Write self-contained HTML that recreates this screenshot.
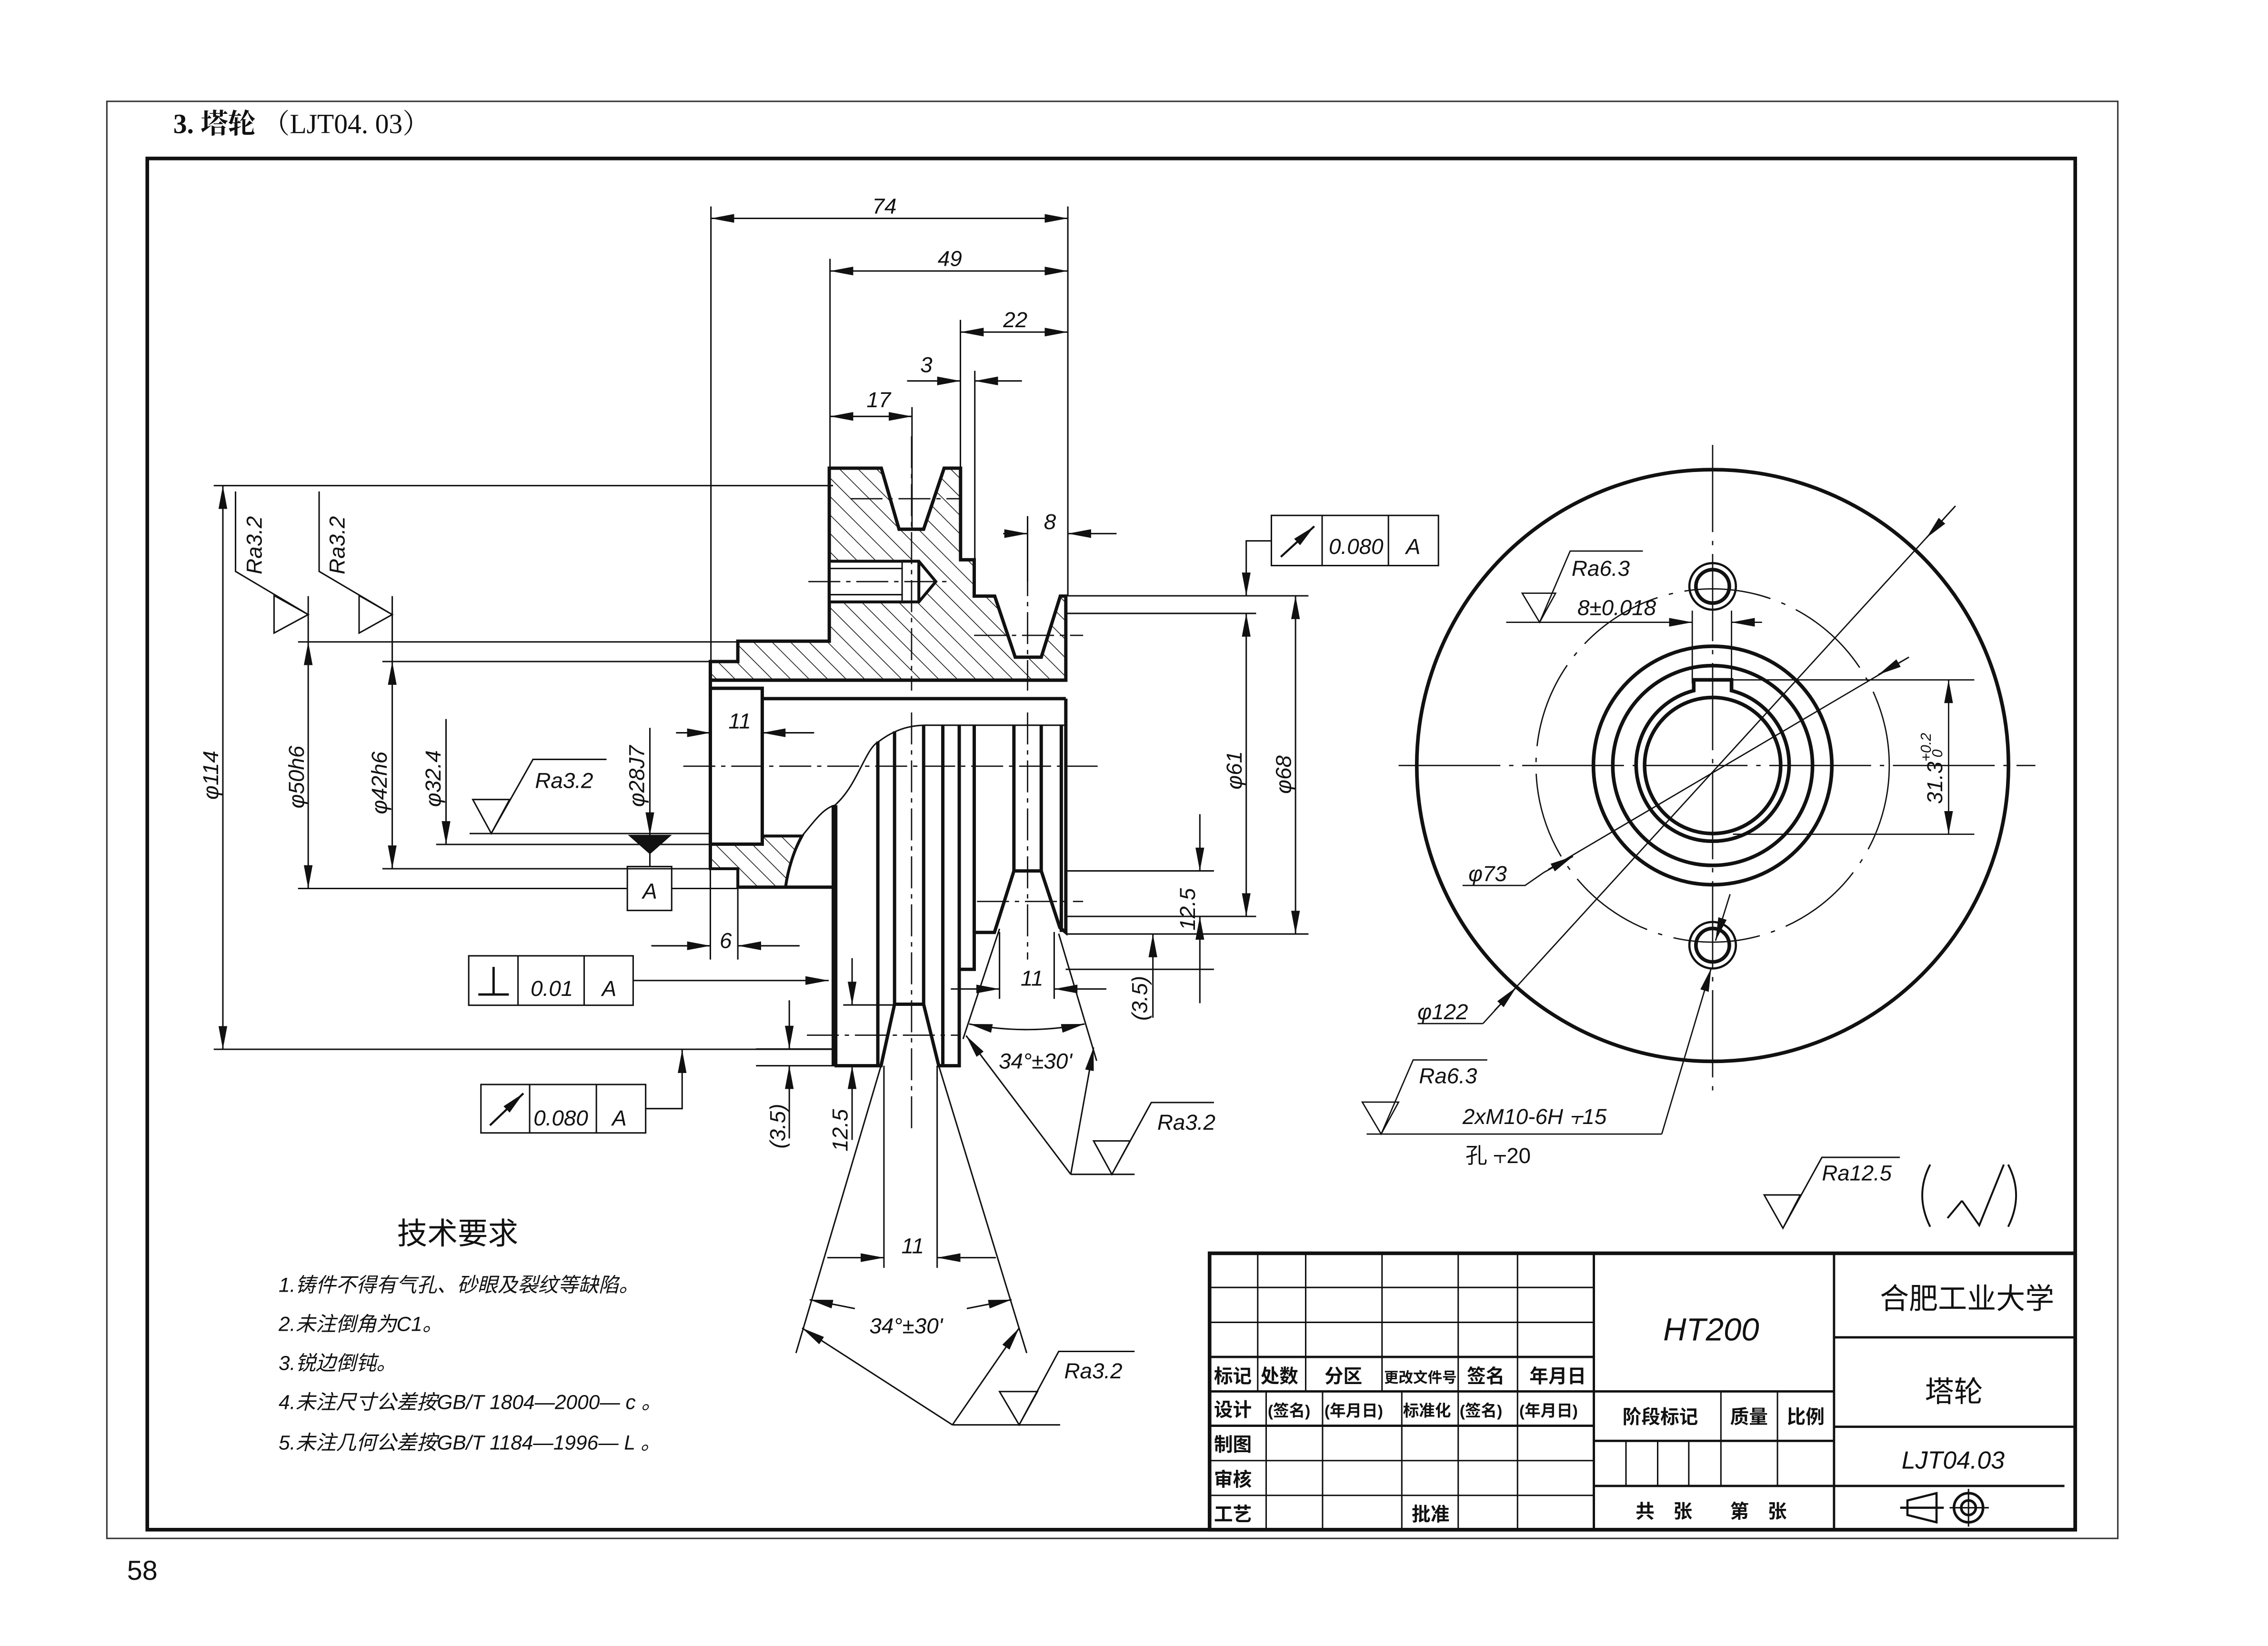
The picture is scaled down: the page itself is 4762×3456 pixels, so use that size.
<!DOCTYPE html>
<html><head><meta charset="utf-8"><style>
html,body{margin:0;padding:0;background:#fff;}
svg{display:block;}
text{font-family:"Liberation Sans","Noto Sans CJK SC",sans-serif;fill:#111;}
.d{font-style:italic;font-size:15px;}
.c{font-family:"Liberation Sans","Noto Sans CJK SC",sans-serif;}
</style></head><body>
<svg width="4762" height="3456" viewBox="0 0 1560 1132.1" preserveAspectRatio="none" xmlns="http://www.w3.org/2000/svg">
<defs>
<marker id="a" viewBox="0 0 16 6" refX="16" refY="3" markerWidth="16" markerHeight="6" markerUnits="userSpaceOnUse" orient="auto-start-reverse"><path d="M0,0 L16,3 L0,6 z" fill="#111"/></marker>
<pattern id="h" width="9" height="9" patternUnits="userSpaceOnUse" patternTransform="rotate(-45)"><line x1="0" y1="0" x2="0" y2="9" stroke="#111" stroke-width="1"/></pattern>
</defs>
<rect width="1560" height="1132.1" fill="#fff"/>
<!-- frames -->
<rect x="73.5" y="69.7" width="1383.2" height="988.4" fill="none" stroke="#333" stroke-width="1"/>
<rect x="101.3" y="109" width="1326.1" height="943.1" fill="none" stroke="#111" stroke-width="2.5"/>
<g transform="scale(0.993,0.995)">
<text x="120" y="92" style="font-family:'Liberation Serif','Noto Serif CJK SC',serif;font-size:19px;font-weight:bold">3. 塔轮 <tspan font-weight="normal">（LJT04. 03）</tspan></text>
<text x="88" y="1092" style="font-size:19px">58</text>
</g>

<g fill="none" stroke="#111" stroke-width="1">
<!-- SECTION VIEW -->
<path d="M570.4,322 L606.2,322 L618.4,364 L635.3,364 L649.4,322 L660.7,322 L660.7,385 L670.1,385 L670.1,410 L684.2,410 L698.3,452 L716.2,452 L729.3,410 L733.1,410 L733.1,467.8 L488.6,467.8 L488.6,455 L507.5,455 L507.5,441 L570.4,441 Z" fill="url(#h)" stroke-width="2.3"/>
<rect x="570.4" y="386" width="50.6" height="28" fill="#fff" stroke-width="2"/>
<path d="M621,386 L632,386 L643.7,400 L632,414 L621,414 M632,386 L632,414" fill="#fff" stroke-width="2"/>
<line x1="570.4" y1="391" x2="621" y2="391"/><line x1="570.4" y1="409" x2="621" y2="409"/>
<path d="M488.6,580.6 L524.3,580.6 L524.3,575 L551.6,575 C546,585 542,598 540.3,610.2 L507.5,610.2 L507.5,597.5 L488.6,597.5 Z" fill="url(#h)" stroke-width="2"/>
<g stroke-width="2.3">
<line x1="488.6" y1="455" x2="488.6" y2="597.5"/>
<line x1="488.6" y1="467.8" x2="733.1" y2="467.8"/>
<line x1="524.3" y1="480.5" x2="733.1" y2="480.5"/>
<rect x="488.6" y="473.4" width="35.7" height="107.2"/>
<line x1="507.5" y1="610.2" x2="574" y2="610.2"/>
<line x1="574" y1="553.8" x2="574" y2="733" stroke-width="4"/>
<path d="M574,733 L606,733 L615.3,690.7 L635.3,690.7 L645.7,733 L659.8,733 L659.8,666.7 L670.1,666.7 L670.1,641.3 L684,641.3 L697.4,599 L716.2,599 L729,638 L733.1,641.3 L733.1,480.5"/>
<line x1="603.8" y1="510" x2="603.8" y2="733"/>
<line x1="615.3" y1="503" x2="615.3" y2="690.7"/>
<line x1="635.3" y1="499" x2="635.3" y2="690.7"/>
<line x1="648.5" y1="499" x2="648.5" y2="733"/>
<line x1="659.8" y1="499" x2="659.8" y2="666.7"/>
<line x1="670.1" y1="499" x2="670.1" y2="641.3"/>
<line x1="697.4" y1="499" x2="697.4" y2="599"/>
<line x1="716.2" y1="499" x2="716.2" y2="599"/>
<line x1="730" y1="499" x2="730" y2="641"/>
</g>
<path d="M551.6,575 C560,565 566,556 574.3,553.8 C590,540 595,515 604.3,510.1 C615,502 625,499 636.2,498.8 L732,498.8"/>
<!-- centre lines -->
<g stroke-dasharray="22 4 3 4" stroke-width="0.9">
<line x1="627" y1="300" x2="627" y2="475"/><line x1="627" y1="490" x2="627" y2="780"/>
<line x1="706.8" y1="355" x2="706.8" y2="475"/><line x1="706.8" y1="490" x2="706.8" y2="660"/>
<line x1="470" y1="527" x2="755" y2="527"/>
<line x1="556" y1="400" x2="655" y2="400"/>
<line x1="670" y1="437" x2="745" y2="437"/>
<line x1="585" y1="343" x2="660" y2="343"/>
<line x1="555" y1="712" x2="660" y2="712"/>
<line x1="672" y1="620" x2="745" y2="620"/>
</g>

<!-- top dims -->
<line x1="489" y1="142" x2="489" y2="455"/><line x1="734.5" y1="142" x2="734.5" y2="410"/>
<line x1="570.9" y1="178" x2="570.9" y2="322"/><line x1="660.6" y1="220" x2="660.6" y2="322"/>
<line x1="670.5" y1="255" x2="670.5" y2="385"/><line x1="627.3" y1="280" x2="627.3" y2="364"/>
<line x1="489" y1="150.2" x2="734.5" y2="150.2" marker-start="url(#a)" marker-end="url(#a)"/>
<line x1="570.9" y1="186.4" x2="734.5" y2="186.4" marker-start="url(#a)" marker-end="url(#a)"/>
<line x1="660.6" y1="228.4" x2="734.5" y2="228.4" marker-start="url(#a)" marker-end="url(#a)"/>
<line x1="570.9" y1="286.4" x2="627.3" y2="286.4" marker-start="url(#a)" marker-end="url(#a)"/>
<line x1="623.9" y1="262" x2="660.6" y2="262" marker-end="url(#a)"/><line x1="702.9" y1="262" x2="670.5" y2="262" marker-end="url(#a)"/>
<line x1="690" y1="367" x2="706.8" y2="367" marker-end="url(#a)"/><line x1="768" y1="367" x2="734.5" y2="367" marker-end="url(#a)"/>
<line x1="706.8" y1="355" x2="706.8" y2="400"/>

<!-- left dims -->
<line x1="147" y1="334" x2="573" y2="334"/>
<line x1="147" y1="721.7" x2="574" y2="721.7"/>
<line x1="153.3" y1="334" x2="153.3" y2="721.7" marker-start="url(#a)" marker-end="url(#a)"/>
<line x1="205" y1="441.5" x2="507" y2="441.5"/><line x1="205" y1="611.1" x2="431" y2="611.1"/><line x1="462" y1="611.1" x2="507" y2="611.1"/>
<line x1="212" y1="441.5" x2="212" y2="611.1" marker-start="url(#a)" marker-end="url(#a)"/>
<line x1="263" y1="455" x2="489" y2="455"/><line x1="263" y1="597.5" x2="489" y2="597.5"/>
<line x1="269.8" y1="455" x2="269.8" y2="597.5" marker-start="url(#a)" marker-end="url(#a)"/>
<line x1="300" y1="580.8" x2="489" y2="580.8"/>
<line x1="306.8" y1="494.5" x2="306.8" y2="580.8" marker-end="url(#a)"/>
<line x1="323" y1="573.3" x2="489" y2="573.3"/>
<line x1="447" y1="500.6" x2="447" y2="574.7" marker-end="url(#a)"/>
<path d="M433.2,574.7 L460.8,574.7 L447,586.9 Z" fill="#111"/>
<line x1="447" y1="586.9" x2="447" y2="596"/>
<rect x="431.5" y="596" width="30.5" height="30.2"/>
<path d="M162,338 L162,393 L212,422.7 M188.5,409.6 L188.5,435.4 L212,422.7 Z"/>
<path d="M219.5,338 L219.5,393 L269.8,422.7 M247,409.6 L247,435.4 L269.8,422.7 Z"/>
<line x1="212" y1="410" x2="212" y2="441.5"/><line x1="269.8" y1="410" x2="269.8" y2="455"/>
<path d="M325.2,549.9 L350.5,549.9 L337.9,573.2 Z M337.9,573.2 L366.6,522.3 L417.2,522.3"/>
<line x1="448" y1="650.5" x2="488.6" y2="650.5" marker-end="url(#a)"/><line x1="550" y1="650.5" x2="507.5" y2="650.5" marker-end="url(#a)"/>
<line x1="507.5" y1="610" x2="507.5" y2="660"/><line x1="488.6" y1="597" x2="488.6" y2="660"/>
<line x1="465" y1="504" x2="488.6" y2="504" marker-end="url(#a)"/><line x1="560" y1="504" x2="524.3" y2="504" marker-end="url(#a)"/>
<rect x="322.4" y="657.4" width="113.1" height="34"/><line x1="356.3" y1="657.4" x2="356.3" y2="691.4"/><line x1="401.8" y1="657.4" x2="401.8" y2="691.4"/>
<path d="M329,684 L350,684 M339.5,684 L339.5,665" stroke-width="1.6"/>
<line x1="435.5" y1="674.4" x2="570" y2="674.4" marker-end="url(#a)"/>
<rect x="330.8" y="745.9" width="113.3" height="33.3"/><line x1="364.3" y1="745.9" x2="364.3" y2="779.2"/><line x1="410.2" y1="745.9" x2="410.2" y2="779.2"/>
<line x1="337" y1="774" x2="360" y2="752" marker-end="url(#a)" stroke-width="1.4"/>
<path d="M444.1,762.5 L469.2,762.5 L469.2,722" marker-end="url(#a)"/>
<line x1="520" y1="721.5" x2="574" y2="721.5"/><line x1="520" y1="733" x2="574" y2="733"/>
<line x1="542.9" y1="688" x2="542.9" y2="721.5" marker-end="url(#a)"/><line x1="542.9" y1="783" x2="542.9" y2="733" marker-end="url(#a)"/>
<line x1="580" y1="691.2" x2="615" y2="691.2"/>
<line x1="586.1" y1="659" x2="586.1" y2="691.2" marker-end="url(#a)"/><line x1="586.1" y1="784" x2="586.1" y2="733" marker-end="url(#a)"/>
<line x1="606" y1="733" x2="547.5" y2="930.6"/><line x1="645.7" y1="733" x2="706.2" y2="930.6"/>
<line x1="608" y1="733" x2="608" y2="872"/><line x1="644.6" y1="733" x2="644.6" y2="872"/>
<line x1="569" y1="865" x2="608" y2="865" marker-end="url(#a)"/><line x1="685" y1="865" x2="644.6" y2="865" marker-end="url(#a)"/>
<path d="M556.9,893.9 L588,900" marker-start="url(#a)"/><path d="M665,900 L695.8,893.9" marker-end="url(#a)"/>
<line x1="655.1" y1="980" x2="551.7" y2="913.4" marker-end="url(#a)"/><line x1="655.1" y1="980" x2="701" y2="913.4" marker-end="url(#a)"/>
<path d="M655.1,980 L729.2,980 M687.5,957.1 L713.6,957.1 L701,980 Z M701,980 L728.2,929.5 L780.4,929.5"/>
<line x1="687.5" y1="638.8" x2="662.4" y2="714.6"/><line x1="728.2" y1="642.2" x2="754.3" y2="729.6"/>
<line x1="687.5" y1="641" x2="687.5" y2="687"/><line x1="725.1" y1="641" x2="725.1" y2="687"/>
<line x1="654" y1="680.2" x2="687.5" y2="680.2" marker-end="url(#a)"/><line x1="761" y1="680.2" x2="725.1" y2="680.2" marker-end="url(#a)"/>
<path d="M666.6,704.3 Q706,712 746,704.3" marker-start="url(#a)" marker-end="url(#a)"/>
<line x1="736.5" y1="807.7" x2="664.5" y2="712.3" marker-end="url(#a)"/><line x1="736.5" y1="807.7" x2="752.2" y2="720.4" marker-end="url(#a)"/>
<path d="M736.5,807.7 L780.4,807.7 M752.2,784.7 L777.3,784.7 L764.8,807.7 Z M764.8,807.7 L791.9,758.3 L835,758.3"/>
<line x1="733" y1="409.8" x2="900" y2="409.8"/><line x1="733" y1="421.9" x2="864" y2="421.9"/>
<line x1="733" y1="630.3" x2="864" y2="630.3"/><line x1="733" y1="642.4" x2="900" y2="642.4"/>
<line x1="857.2" y1="421.9" x2="857.2" y2="630.3" marker-start="url(#a)" marker-end="url(#a)"/>
<line x1="891.1" y1="409.8" x2="891.1" y2="642.4" marker-start="url(#a)" marker-end="url(#a)"/>
<path d="M874.5,372 L857.2,372 L857.2,409.8" marker-end="url(#a)"/>
<rect x="874.5" y="354.5" width="114.9" height="34.5"/><line x1="909.4" y1="354.5" x2="909.4" y2="389"/><line x1="955" y1="354.5" x2="955" y2="389"/>
<line x1="881" y1="383" x2="904" y2="362" marker-end="url(#a)" stroke-width="1.4"/>
<line x1="733" y1="599" x2="835" y2="599"/><line x1="733" y1="666.7" x2="835" y2="666.7"/>
<line x1="825.3" y1="560" x2="825.3" y2="599" marker-end="url(#a)"/><line x1="825.3" y1="690" x2="825.3" y2="630.3" marker-end="url(#a)"/>
<line x1="793" y1="700" x2="793" y2="642.4" marker-end="url(#a)"/>
</g>
<g class="d">
<text x="600" y="147">74</text><text x="645" y="183">49</text><text x="690" y="225">22</text>
<text x="633" y="256">3</text><text x="596" y="280">17</text><text x="718" y="364">8</text>
<text x="501" y="501">11</text><text x="495" y="652">6</text><text x="702" y="678">11</text><text x="620" y="862">11</text>
<text x="368" y="542">Ra3.2</text>
<text x="687" y="735">34°±30'</text><text x="598" y="917">34°±30'</text>
<text x="796" y="777">Ra3.2</text><text x="732" y="948">Ra3.2</text>
<text x="365" y="685">0.01</text><text x="414" y="685">A</text>
<text x="442" y="618">A</text>
<text x="367" y="774">0.080</text><text x="421" y="774">A</text>
<text x="914" y="381">0.080</text><text x="967" y="381">A</text>
<text transform="translate(180,395) rotate(-90)">Ra3.2</text>
<text transform="translate(237,395) rotate(-90)">Ra3.2</text>
<text transform="translate(150,550) rotate(-90)">φ114</text>
<text transform="translate(209,556) rotate(-90)">φ50h6</text>
<text transform="translate(266,560) rotate(-90)">φ42h6</text>
<text transform="translate(303,555) rotate(-90)">φ32.4</text>
<text transform="translate(443,555) rotate(-90)">φ28J7</text>
<text transform="translate(854,543) rotate(-90)">φ61</text>
<text transform="translate(888,546) rotate(-90)">φ68</text>
<text transform="translate(822,640) rotate(-90)">12.5</text>
<text transform="translate(789,702) rotate(-90)">(3.5)</text>
<text transform="translate(540,790) rotate(-90)">(3.5)</text>
<text transform="translate(583,792) rotate(-90)">12.5</text>
</g>

<!-- RIGHT VIEW -->
<g fill="none" stroke="#111">
<circle cx="1178" cy="526.5" r="203.5" stroke-width="2.5"/>
<circle cx="1178" cy="526.5" r="121.5" stroke-width="0.9" stroke-dasharray="60 8 3 8"/>
<circle cx="1178" cy="526.5" r="82" stroke-width="2.5"/>
<circle cx="1178" cy="526.5" r="68.7" stroke-width="2.5"/>
<path d="M1165,475 L1165,467.6 L1191,467.6 L1191,475 A52.6,52.6 0 1 1 1165,475 Z" stroke-width="2.5"/>
<circle cx="1178" cy="526.5" r="46.8" stroke-width="2.5"/>
<circle cx="1178" cy="403.3" r="16" stroke-width="1.5"/><circle cx="1178" cy="403.3" r="11.5" stroke-width="2.5"/>
<circle cx="1178" cy="650.1" r="16" stroke-width="1.5"/><circle cx="1178" cy="650.1" r="11.5" stroke-width="2.5"/>
<g stroke-width="0.9">
<line x1="1178" y1="306" x2="1178" y2="750" stroke-dasharray="60 6 3 6"/>
<line x1="962" y1="526.5" x2="1400" y2="526.5" stroke-dasharray="70 6 3 6"/>
<line x1="1164" y1="420" x2="1164" y2="470"/><line x1="1191" y1="420" x2="1191" y2="470"/>
<line x1="1142" y1="428" x2="1164" y2="428" marker-end="url(#a)"/><line x1="1212" y1="428" x2="1191" y2="428" marker-end="url(#a)"/>
<path d="M1036,428 L1142,428"/>
<path d="M1047,408 L1070,408 L1059,428 Z M1059,428 L1080,379 L1130,379"/>
<line x1="1191" y1="467.6" x2="1358" y2="467.6"/><line x1="1192" y1="573.8" x2="1358" y2="573.8"/>
<line x1="1340.3" y1="467.6" x2="1340.3" y2="573.8" marker-start="url(#a)" marker-end="url(#a)"/>
<line x1="1345" y1="348" x2="1020" y2="704"/>
<line x1="1325" y1="370" x2="1345" y2="348" marker-start="url(#a)"/>
<line x1="1028" y1="695" x2="1043" y2="679" marker-end="url(#a)"/>
<path d="M1020,704 L975,704"/>
<line x1="1313" y1="452" x2="1065" y2="598" />
<line x1="1292" y1="464" x2="1313" y2="452" marker-start="url(#a)"/>
<line x1="1062" y1="600" x2="1082" y2="589" marker-end="url(#a)"/>
<path d="M1062,600 L1049,609 L1006,609"/>
<line x1="1190" y1="615" x2="1180" y2="647" marker-end="url(#a)"/>
<line x1="1143" y1="780" x2="1177" y2="666" marker-end="url(#a)"/>
<path d="M940,780 L1143,780 M937,758 L962,758 L950,780 Z M950,780 L972,729 L1023,729"/>
</g>
</g>
<g class="d">
<text x="1081" y="396">Ra6.3</text><text x="1085" y="423">8±0.018</text>
<text x="1010" y="606">φ73</text><text x="975" y="701">φ122</text>
<text x="976" y="745">Ra6.3</text><text x="1006" y="773">2xM10-6H ⫟15</text>
<text x="1008" y="800" style="font-style:normal" class="c">孔 ⫟20</text>
<text transform="translate(1336,553) rotate(-90)">31.3<tspan dy="-8" font-size="10">+0.2</tspan></text>
<text transform="translate(1336,521) rotate(-90)" font-size="10">0</text>
</g>
<g transform="scale(0.993,0.995)">
<text x="1262" y="816" class="d">Ra12.5</text>
<g fill="none" stroke="#111" stroke-width="1">
<path d="M1222,826 L1247,826 L1235,849 Z M1235,849 L1262,800 L1316,800"/>
<path d="M1349,842 L1359,830 M1359,830 L1371,847 L1388,805" stroke-width="1.3"/>
<path d="M1337,805 Q1326,826 1337,848 M1391,805 Q1402,826 1391,848" stroke-width="1.3"/>
</g>
<g class="c">
<text x="275" y="860" style="font-size:21px">技术要求</text>
<g style="font-size:14px;font-style:italic">
<text x="193" y="893">1.铸件不得有气孔、砂眼及裂纹等缺陷。</text>
<text x="193" y="920">2.未注倒角为C1。</text>
<text x="193" y="947">3.锐边倒钝。</text>
<text x="193" y="974">4.未注尺寸公差按GB/T 1804—2000— c 。</text>
<text x="193" y="1002">5.未注几何公差按GB/T 1184—1996— L 。</text>
</g>
</g>
</g>

<!-- TITLE BLOCK -->
<g fill="none" stroke="#111" stroke-width="1">
<rect x="832" y="862" width="595.4" height="190.1" stroke-width="2.5"/>
<line x1="832" y1="885.5" x2="1096.3" y2="885.5"/><line x1="832" y1="909.5" x2="1096.3" y2="909.5"/>
<line x1="832" y1="933.3" x2="1096.3" y2="933.3" stroke-width="1.6"/>
<line x1="832" y1="957" x2="1261.5" y2="957" stroke-width="1.6"/>
<line x1="832" y1="980.6" x2="1096.3" y2="980.6" stroke-width="1.6"/>
<line x1="832" y1="1004.6" x2="1096.3" y2="1004.6"/>
<line x1="832" y1="1028.5" x2="1096.3" y2="1028.5"/>
<line x1="865.1" y1="862" x2="865.1" y2="957"/><line x1="898.1" y1="862" x2="898.1" y2="957"/>
<line x1="950.6" y1="862" x2="950.6" y2="957"/><line x1="1003" y1="862" x2="1003" y2="1052"/>
<line x1="1043.8" y1="862" x2="1043.8" y2="1052"/>
<line x1="870.9" y1="957" x2="870.9" y2="1052"/><line x1="909.7" y1="957" x2="909.7" y2="1052"/>
<line x1="964.2" y1="957" x2="964.2" y2="1052"/>
<line x1="1096.3" y1="862" x2="1096.3" y2="1052" stroke-width="1.6"/>
<line x1="1261.5" y1="862" x2="1261.5" y2="1052" stroke-width="1.6"/>
<line x1="1183.7" y1="957" x2="1183.7" y2="1022"/><line x1="1222.6" y1="957" x2="1222.6" y2="1022"/>
<line x1="1096.3" y1="991" x2="1261.5" y2="991" stroke-width="1.6"/>
<line x1="1096.3" y1="1022" x2="1420" y2="1022" stroke-width="1.6"/>
<line x1="1118.4" y1="991" x2="1118.4" y2="1022"/><line x1="1140.2" y1="991" x2="1140.2" y2="1022"/><line x1="1161.6" y1="991" x2="1161.6" y2="1022"/>
<line x1="1261.5" y1="919.8" x2="1427" y2="919.8" stroke-width="1.6"/>
<line x1="1261.5" y1="981.3" x2="1427" y2="981.3" stroke-width="1.6"/>
<path d="M1312,1032 L1332,1027 L1332,1047 L1312,1042 Z M1307,1037 L1337,1037" stroke-width="1.5"/>
<circle cx="1354" cy="1037" r="10" stroke-width="1.8"/><circle cx="1354" cy="1037" r="5" stroke-width="1.8"/>
<path d="M1341,1037 L1368,1037 M1354,1024 L1354,1050"/>
</g>
<g class="c" style="font-size:13px;font-weight:bold">
<text x="835" y="951">标记</text><text x="867" y="951">处数</text><text x="911" y="951">分区</text><text x="952" y="951" style="font-size:10px">更改文件号</text><text x="1009" y="951">签名</text><text x="1052" y="951">年月日</text>
<text x="835" y="974">设计</text>
<g style="font-size:11px"><text x="872" y="974">(签名)</text><text x="911" y="974">(年月日)</text><text x="965" y="974">标准化</text><text x="1004" y="974">(签名)</text><text x="1045" y="974">(年月日)</text></g>
<text x="835" y="998">制图</text><text x="835" y="1022">审核</text><text x="835" y="1046">工艺</text><text x="971" y="1046">批准</text>
<text x="1116" y="979">阶段标记</text><text x="1190" y="979">质量</text><text x="1229" y="979">比例</text>
<text x="1125" y="1044">共　张　　第　张</text>
</g>
<text x="1144" y="922" class="d" style="font-size:22px">HT200</text>
<text x="1293" y="900" class="c" style="font-size:20px">合肥工业大学</text>
<text x="1324" y="964" class="c" style="font-size:20px">塔轮</text>
<text x="1308" y="1010" class="d" style="font-size:17px">LJT04.03</text>
</svg>
</body></html>
